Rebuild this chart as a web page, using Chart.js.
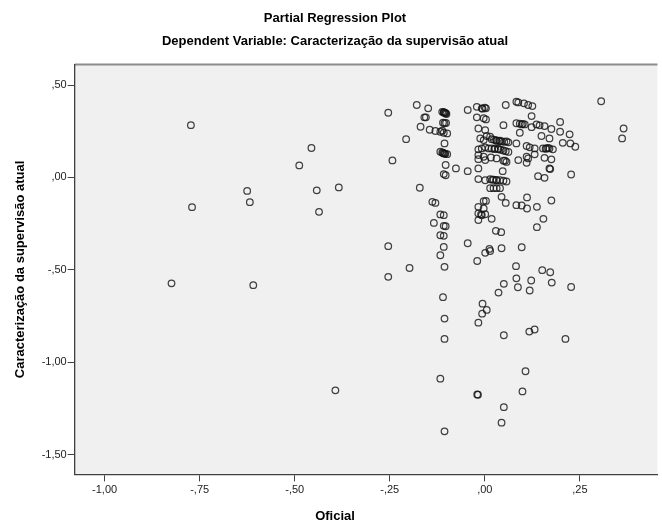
<!DOCTYPE html>
<html>
<head>
<meta charset="utf-8">
<title>Partial Regression Plot</title>
<script src="https://cdn.jsdelivr.net/npm/chart.js@4.4.1/dist/chart.umd.min.js"></script>
<style>
    html, body { margin: 0; padding: 0; background: #fff; }
    .chart-box { position: relative; width: 662px; height: 530px; }
</style>
</head>
<body>
<div class="chart-box"><canvas id="cnv-partial"></canvas></div>
<script>
//--------------------------------------
// Data
//--------------------------------------
var titleLines = ['Partial Regression Plot', 'Dependent Variable: Caracterização da supervisão atual'];
var xTitle = 'Oficial';
var yTitle = 'Caracterização da supervisão atual';

var xTicks = [-1.00, -0.75, -0.50, -0.25, 0.00, 0.25];
var xTickLabels = ['-1,00', '-,75', '-,50', '-,25', ',00', ',25'];
var yTicks = [0.50, 0.00, -0.50, -1.00, -1.50];
var yTickLabels = [',50', ',00', '-,50', '-1,00', '-1,50'];

// residuals of Oficial (x) and of the dependent variable (y)
var oficialRes = [
    -0.824, -0.773, -0.770, -0.625, -0.618, -0.609, -0.488, -0.456, -0.442, -0.436,
    -0.393, -0.384, -0.254, -0.243, -0.254, -0.254, -0.207, -0.198, -0.179, -0.171,
    -0.169, -0.159, -0.155, -0.149, -0.145, -0.130, -0.138, -0.130, -0.134, -0.117,
    -0.108, -0.117, -0.108, -0.117, -0.108, -0.108, -0.106, -0.110, -0.106, -0.106,
    -0.117, -0.106, -0.117, -0.108, -0.099, -0.112, -0.108, -0.106, -0.103, -0.101,
    -0.110, -0.106, -0.106, -0.117, -0.112, -0.108, -0.104, -0.099, -0.103, -0.108,
    -0.103, -0.076, -0.045, -0.045, -0.103,
    -0.021, -0.008, 0.003, -0.021, -0.003, 0.003, -0.017, 0.001, -0.012, -0.003,
    0.005, 0.014, -0.017, -0.008, 0.001, -0.017, -0.003, -0.017, 0.001, 0.016,
    0.031, 0.053, -0.017, 0.047, -0.017, 0.001, 0.014, 0.023, 0.031, 0.040,
    0.049, 0.057, 0.014, 0.023, 0.031, 0.040, 0.044, -0.003, 0.003, 0.055,
    -0.017, -0.003, -0.017, -0.008, 0.001, -0.017, 0.018, 0.029, 0.043, -0.045,
    0.001, 0.012, 0.014, 0.044, 0.097, -0.020, 0.082, 0.151, 0.172, 0.083,
    0.122, 0.176, 0.227, 0.050, 0.087, 0.118, 0.036, -0.006, 0.005, -0.007,
    -0.017, 0.050, 0.117, 0.131, 0.212, 0.107, 0.099, -0.020, -0.018, 0.050,
    0.044, 0.083, 0.097, 0.111, 0.137, 0.111, 0.175, 0.154, 0.137,
    0.306, 0.365, 0.361, 0.227, 0.055, 0.049, 0.083, 0.088, 0.103, 0.114,
    0.125, 0.123, 0.083, 0.097, 0.105, 0.123, 0.136, 0.144, 0.157, 0.175,
    0.198, 0.198, 0.223, 0.205, 0.225, 0.238, 0.092, 0.083, 0.110, 0.118,
    0.131, 0.149, 0.170, 0.153, 0.162, 0.170, 0.179, 0.131, 0.110, 0.114,
    0.157, 0.088, 0.110, 0.175, 0.170, 0.172, 0.140, 0.157,
    0.018, 0.024, 0.031, 0.038, 0.044, 0.051, 0.057, 0.062,
    0.010, 0.018, 0.027, 0.036, 0.042, 0.049, 0.055, 0.062,
    0.049, 0.057,
    -0.108, -0.104, -0.110, -0.106, -0.112, -0.102, 0.000, -0.006, 0.030, 0.040,
    0.025, 0.035, 0.020, 0.030, 0.160, 0.166, 0.100, 0.092, -0.010
];
var supervisaoRes = [
    -0.573, 0.283, -0.161, -0.073, -0.134, -0.583, 0.065, 0.159, -0.070, -0.186,
    -1.152, -0.054, 0.350, 0.092, -0.372, -0.538, 0.207, -0.490, 0.392, -0.056,
    0.274, 0.325, 0.325, 0.374, 0.258, 0.251, -0.132, -0.138, -0.246, -0.200,
    -0.204, -0.313, -0.316, -0.421, -0.376, -0.262, -0.484, -0.648, -0.764, -0.874,
    -1.089, -1.374, 0.247, 0.242, 0.238, 0.355, 0.353, 0.350, 0.347, 0.343,
    0.296, 0.293, 0.184, 0.139, 0.135, 0.130, 0.128, 0.126, 0.067, 0.018,
    0.012, 0.049, 0.034, 0.365, -0.264,
    0.382, 0.374, 0.374, 0.325, 0.320, 0.314, 0.265, 0.256, 0.211, 0.202,
    0.224, 0.220, 0.152, 0.157, 0.163, 0.121, 0.112, 0.099, 0.094, 0.108,
    0.103, 0.090, 0.049, 0.034, -0.009, -0.015, -0.010, -0.012, -0.015, -0.015,
    -0.018, -0.022, -0.058, -0.058, -0.058, -0.058, -0.105, -0.128, -0.127, -0.138,
    -0.159, -0.168, -0.195, -0.204, -0.199, -0.231, -0.224, -0.289, -0.296, -0.356,
    -0.408, -0.387, -0.398, -0.383, -0.378, -0.452, -0.480, -0.502, -0.513, -0.546,
    -0.558, -0.569, -0.593, -0.576, -0.594, -0.612, -0.623, -0.683, -0.717, -0.737,
    -0.786, -0.854, -0.834, -0.823, -0.874, -1.049, -1.158, -1.174, -1.176, -1.243,
    -1.327, -0.150, -0.152, -0.168, -0.159, -0.108, -0.125, -0.224, -0.269,
    0.412, 0.265, 0.211, 0.016, 0.392, 0.283, 0.410, 0.406, 0.401, 0.392,
    0.386, 0.332, 0.293, 0.287, 0.287, 0.272, 0.287, 0.282, 0.278, 0.262,
    0.300, 0.247, 0.233, 0.187, 0.184, 0.166, 0.242, 0.184, 0.170, 0.163,
    0.157, 0.224, 0.211, 0.157, 0.157, 0.157, 0.152, 0.125, 0.112, 0.103,
    0.106, 0.094, 0.079, 0.098, 0.049, 0.045, 0.007, -0.002,
    0.207, 0.204, 0.198, 0.197, 0.195, 0.193, 0.195, 0.190,
    0.157, 0.157, 0.157, 0.152, 0.150, 0.146, 0.142, 0.138,
    0.090, 0.084,
    0.352, 0.349, 0.132, 0.129, 0.253, 0.295, 0.378, 0.372, 0.201, 0.199,
    0.153, 0.155, -0.012, -0.014, 0.155, 0.159, 0.290, 0.291, -0.200
];

(function(win){

    var FONT = '"Liberation Sans", Arial, sans-serif';

    //--------------------------------------
    // Workers
    //--------------------------------------
    var getPoints = function(){
        var pts = [];
        for(var i = 0; i < oficialRes.length; i++){
            pts.push({x: oficialRes[i], y: supervisaoRes[i]});
        }
        return pts;
    };

    // grey plot background plus the top frame line, like SPSS output
    var plotFrame = {
        id: 'plotFrame',
        beforeDraw: function(chart){
            var a = chart.chartArea;
            var ctx = chart.ctx;
            ctx.save();
            ctx.fillStyle = '#f0f0f0';
            ctx.fillRect(a.left, a.top, a.right - a.left, a.bottom - a.top);
            ctx.strokeStyle = '#8c8c8c';
            ctx.lineWidth = 2;
            ctx.beginPath();
            ctx.moveTo(a.left, a.top);
            ctx.lineTo(a.right, a.top);
            ctx.stroke();
            ctx.restore();
        }
    };

    var setChart = function(){
        var cnv = document.getElementById('cnv-partial');
        var chart = new Chart(cnv, {
            type: 'scatter',
            data: {
                datasets: [{
                    data: getPoints(),
                    pointStyle: 'circle',
                    pointRadius: 3.3,
                    pointHoverRadius: 3.3,
                    pointBorderWidth: 1.25,
                    borderColor: 'rgba(20,20,20,0.8)',
                    backgroundColor: 'rgba(0,0,0,0)'
                }]
            },
            options: {
                responsive: true,
                maintainAspectRatio: false,
                animation: false,
                events: [],
                layout: { padding: { left: 8, right: 0, top: 0, bottom: 0 } },
                plugins: {
                    legend: { display: false },
                    tooltip: { enabled: false },
                    title: {
                        display: true,
                        text: titleLines,
                        color: '#000',
                        font: { family: FONT, size: 13, weight: 'bold', lineHeight: 1.77 },
                        padding: { top: 6.5, bottom: 12 }
                    },
                    subtitle: {
                        display: true,
                        position: 'bottom',
                        text: xTitle,
                        color: '#000',
                        font: { family: FONT, size: 13, weight: 'bold', lineHeight: 1.2 },
                        padding: { top: 4, bottom: 6 }
                    }
                },
                scales: {
                    x: {
                        type: 'linear',
                        min: -1.0786,
                        max: 0.454,
                        afterBuildTicks: function(scale){
                            scale.ticks = xTicks.map(function(v){ return {value: v}; });
                        },
                        afterFit: function(scale){
                            scale.height = 30;
                        },
                        ticks: {
                            color: '#222',
                            padding: 2,
                            maxRotation: 0,
                            font: { family: FONT, size: 11 },
                            callback: function(value, index){ return xTickLabels[index]; }
                        },
                        grid: {
                            drawOnChartArea: false,
                            drawTicks: true,
                            tickLength: 7,
                            tickColor: '#404040'
                        },
                        border: { display: true, color: '#404040', width: 1.3 }
                    },
                    y: {
                        type: 'linear',
                        min: -1.607,
                        max: 0.611,
                        afterBuildTicks: function(scale){
                            scale.ticks = yTicks.map(function(v){ return {value: v}; });
                        },
                        afterFit: function(scale){
                            scale.width = 66.7;
                        },
                        title: {
                            display: true,
                            text: yTitle,
                            color: '#000',
                            font: { family: FONT, size: 13, weight: 'bold', lineHeight: 1.2 },
                            padding: { top: 5, bottom: 0 }
                        },
                        ticks: {
                            color: '#222',
                            padding: 1,
                            font: { family: FONT, size: 11 },
                            callback: function(value, index){ return yTickLabels[index]; }
                        },
                        grid: {
                            drawOnChartArea: false,
                            drawTicks: true,
                            tickLength: 7,
                            tickColor: '#404040'
                        },
                        border: { display: true, color: '#404040', width: 1.3 }
                    }
                }
            },
            plugins: [plotFrame]
        });
        win.partialChart = chart;
    };

    setChart();

})(window);
</script>
</body>
</html>
